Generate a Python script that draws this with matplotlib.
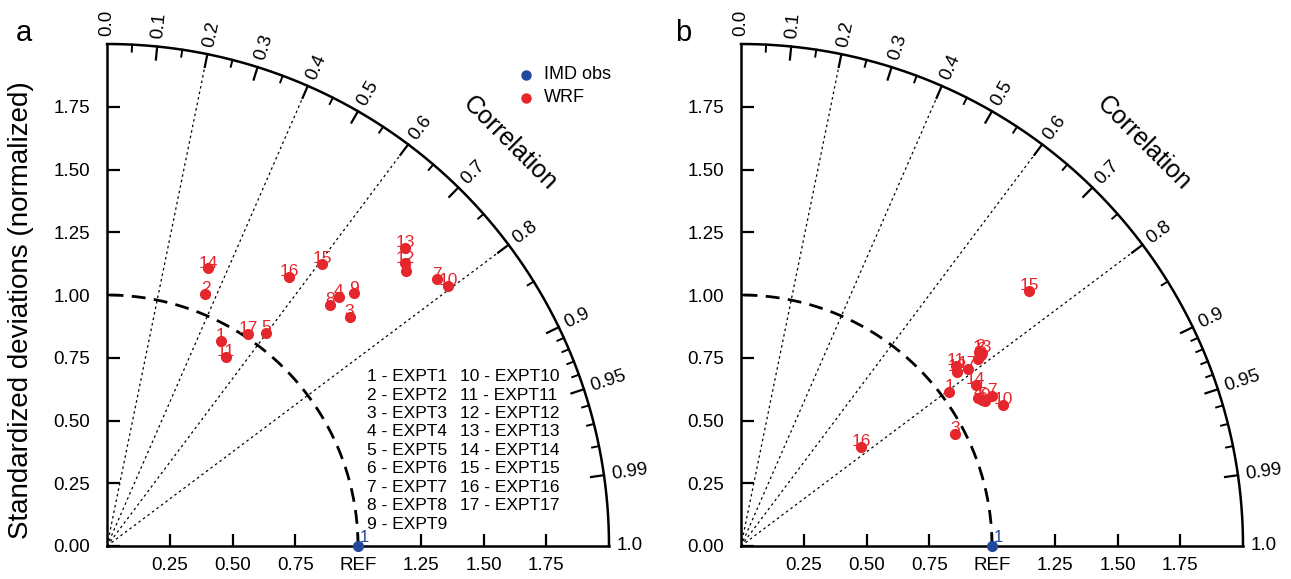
import numpy as np
import matplotlib
matplotlib.use("Agg")
import matplotlib.pyplot as plt

plt.rcParams['font.family'] = ['Liberation Sans', 'DejaVu Sans']

# ---------------- data ----------------
expt_ids = list(range(1, 18))
expt_names = [f"EXPT{i}" for i in expt_ids]

# panel a: normalized standard deviation and correlation
std_a = [0.936, 1.078, 1.329, 1.356, 1.059, 1.617, 1.690, 1.306, 1.407,
         1.709, 0.890, 1.637, 1.679, 1.177, 1.414, 1.293, 1.016]
corr_a = [0.485, 0.364, 0.727, 0.681, 0.597, 0.736, 0.778, 0.679, 0.699,
          0.795, 0.531, 0.726, 0.708, 0.343, 0.607, 0.561, 0.553]

# panel b
std_b = [1.032, 1.226, 0.963, 1.114, 1.123, 1.221, 1.165, 1.203, 1.129,
         1.185, 1.117, 1.104, 1.231, 1.134, 1.532, 0.620, 1.146]
corr_b = [0.803, 0.775, 0.886, 0.849, 0.856, 0.782, 0.859, 0.785, 0.860,
          0.881, 0.766, 0.779, 0.780, 0.824, 0.749, 0.772, 0.788]

ref_std = 1.0
ref_corr = 1.0

std_ticks = [0.25, 0.50, 0.75, 1.00, 1.25, 1.50, 1.75]
std_tick_labels_x = ["0.25", "0.50", "0.75", "REF", "1.25", "1.50", "1.75"]
std_tick_labels_y = ["0.00", "0.25", "0.50", "0.75", "1.00", "1.25", "1.50", "1.75"]
corr_major = [0.0, 0.1, 0.2, 0.3, 0.4, 0.5, 0.6, 0.7, 0.8, 0.9, 0.95, 0.99, 1.0]
corr_major_labels = ["0.0", "0.1", "0.2", "0.3", "0.4", "0.5", "0.6", "0.7",
                     "0.8", "0.9", "0.95", "0.99", "1.0"]
corr_minor = [0.05, 0.15, 0.25, 0.35, 0.45, 0.55, 0.65, 0.75, 0.85,
              0.91, 0.92, 0.93, 0.94, 0.96, 0.97, 0.98]
corr_lines = [0.2, 0.4, 0.6, 0.8]

RED = '#e5262c'
BLUE = '#21489c'
SMAX = 2.0
TICKFS = 13.5

W, H = 1291, 579
fig = plt.figure(figsize=(W / 100, H / 100), dpi=100)


def xy(std, corr):
    th = np.arccos(np.asarray(corr, float))
    s = np.asarray(std, float)
    return s * np.cos(th), s * np.sin(th)


def taylor(ax, std, corr, show_ylabel, letter, letter_x):
    ax.set_xlim(0, SMAX)
    ax.set_ylim(0, SMAX)
    ax.set_aspect('equal')
    for sp in ['top', 'right']:
        ax.spines[sp].set_visible(False)
    for sp in ['left', 'bottom']:
        ax.spines[sp].set_linewidth(1.8)
    ax.set_xticks(std_ticks)
    ax.set_xticklabels(std_tick_labels_x)
    ax.set_yticks([0.0] + std_ticks)
    ax.set_yticklabels(std_tick_labels_y)
    ax.tick_params(direction='in', length=9, width=1.6, labelsize=TICKFS, pad=8)
    ax.tick_params(axis='y', pad=12)

    # outer arc
    t = np.linspace(0, np.pi / 2, 400)
    ax.plot(SMAX * np.cos(t), SMAX * np.sin(t), color='black', lw=1.8, clip_on=False)
    # REF arc
    ax.plot(ref_std * np.cos(t), ref_std * np.sin(t), color='black', lw=2.0,
            ls=(0, (5, 3)), clip_on=False)
    # correlation radial lines
    for c in corr_lines:
        x1, y1 = xy(SMAX, c)
        ax.plot([0, x1], [0, y1], color='black', lw=0.9, ls=(0, (2, 2.5)))

    # arc ticks
    for c in corr_major[1:-1]:
        th = np.arccos(c)
        r = np.array([SMAX - 0.052, SMAX])
        ax.plot(r * np.cos(th), r * np.sin(th), color='black', lw=1.6, clip_on=False)
    for c in corr_minor:
        th = np.arccos(c)
        r = np.array([SMAX - 0.028, SMAX])
        ax.plot(r * np.cos(th), r * np.sin(th), color='black', lw=1.4, clip_on=False)
    for c, lab in zip(corr_major, corr_major_labels):
        th = np.arccos(c)
        r = SMAX + 0.03
        ax.text(r * np.cos(th), r * np.sin(th), lab, rotation=np.degrees(th),
                rotation_mode='anchor', ha='left', va='center', fontsize=TICKFS)
    ang = np.radians(45)
    ax.text(2.27 * np.cos(ang), 2.27 * np.sin(ang), "Correlation", rotation=-45,
            rotation_mode='anchor', ha='center', va='center', fontsize=18)

    # points
    px, py = xy(std, corr)
    ax.plot(px, py, 'o', color=RED, ms=7, ls='none', clip_on=False, zorder=5)
    for i, (x, y) in zip(expt_ids, zip(px, py)):
        ax.annotate(str(i), (x, y), xytext=(0, -1.5), textcoords='offset points',
                    ha='center', va='bottom', color=RED, fontsize=12.5, zorder=6)
    rx, ry = xy([ref_std], [ref_corr])
    ax.plot(rx, ry, 'o', color=BLUE, ms=7, clip_on=False, zorder=5)
    ax.annotate("1", (rx[0], ry[0]), xytext=(1, 1), textcoords='offset points',
                ha='left', va='bottom', color=BLUE, fontsize=12)

    if show_ylabel:
        ax.set_ylabel("Standardized deviations (normalized)", fontsize=20)
        ax.yaxis.set_label_coords(-0.145, 0.47)
    fig.text(letter_x / W, 1 - 33 / H, letter, fontsize=21, ha='center', va='center')


scale = 502
axa = fig.add_axes([107 / W, 33 / H, scale / W, scale / H])
axb = fig.add_axes([741 / W, 33 / H, scale / W, scale / H])
taylor(axa, std_a, corr_a, True, 'a', 24)
taylor(axb, std_b, corr_b, False, 'b', 683)

# legend (panel a)
axa.plot([1.67], [1.877], 'o', color=BLUE, ms=6.5, clip_on=False)
axa.plot([1.67], [1.785], 'o', color=RED, ms=6.5, clip_on=False)
axa.text(1.74, 1.877, "IMD obs", fontsize=13, va='center', ha='left')
axa.text(1.74, 1.785, "WRF", fontsize=13, va='center', ha='left')

# experiment list (panel a)
y0 = 0.675
dy = 0.0735
for k, (i, name) in enumerate(zip(expt_ids, expt_names)):
    col = 0 if k < 9 else 1
    row = k if k < 9 else k - 9
    xcol = 1.035 if col == 0 else 1.405
    axa.text(xcol, y0 - row * dy, f"{i} - {name}", fontsize=12.5, ha='left', va='center')

fig.savefig("out.png", dpi=100)
